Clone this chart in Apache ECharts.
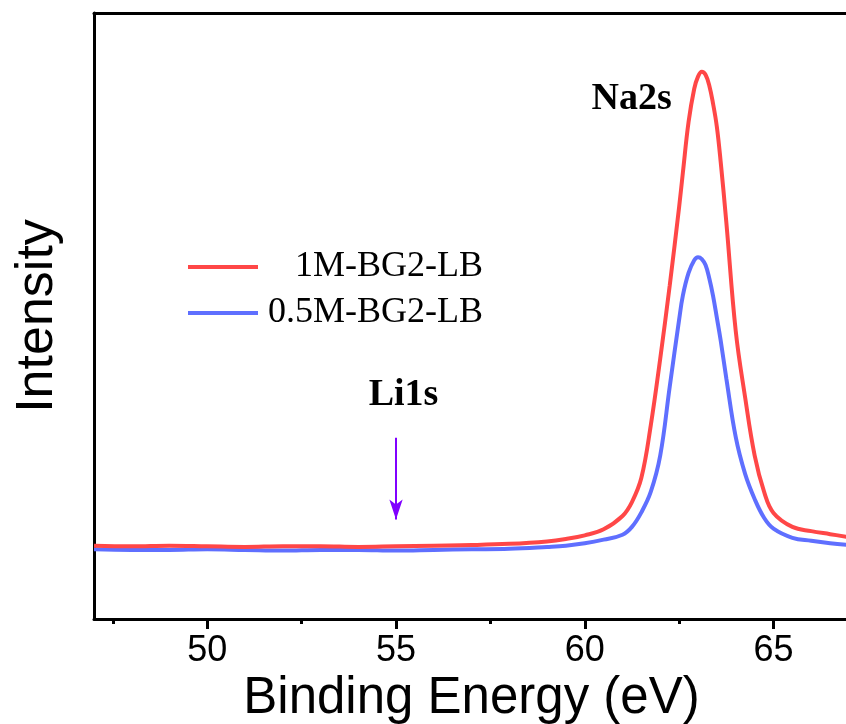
<!DOCTYPE html>
<html>
<head>
<meta charset="utf-8">
<script src="https://cdn.jsdelivr.net/npm/echarts@6/dist/echarts.min.js"></script>
<style>
  html, body { margin: 0; padding: 0; background: #fff; }
  #chart { width: 846px; height: 724px; }
</style>
</head>
<body>
<div id="chart"></div>
<script>
// binding energy (eV) and intensity (a.u.)
const energy = [47, 48, 49, 50, 51, 52, 53, 54, 55, 56, 57, 58, 59, 59.5, 60, 60.5, 61, 61.25, 61.5, 61.75,
  62, 62.25, 62.5, 62.6, 62.75, 62.9, 63, 63.1, 63.2, 63.3, 63.4, 63.5, 63.6, 63.75,
  64, 64.25, 64.5, 64.75, 65, 65.5, 66, 66.5, 67]
const red1M = [12.1, 12.0, 12.1, 12.0, 11.9, 12.0, 12.0, 11.9, 12.0, 12.1, 12.2, 12.4, 12.8, 13.2, 13.8, 14.8, 17.0, 19.3, 23.3, 32.0,
  43.0, 55.0, 68.0, 73.7, 82.0, 87.5, 89.5, 90.3, 89.8, 88.0, 85.0, 81.2, 75.5, 65.5,
  47.5, 36.5, 27.0, 21.0, 17.5, 15.2, 14.5, 14.0, 13.5]
const blue05M = [11.5, 11.4, 11.4, 11.5, 11.4, 11.3, 11.4, 11.4, 11.3, 11.4, 11.5, 11.6, 11.9, 12.1, 12.5, 13.1, 13.9, 15.2, 17.6, 21.0,
  27.0, 38.3, 49.4, 53.4, 57.1, 59.2, 59.7, 59.4, 58.4, 56.2, 53.3, 49.7, 46.0, 39.7,
  30.0, 23.9, 19.8, 16.7, 14.9, 13.4, 12.9, 12.5, 12.2]

const seriesNames = ['1M-BG2-LB', '0.5M-BG2-LB']
const majorTicks = [50, 55, 60, 65]
const minorTicks = [47.5, 52.5, 57.5, 62.5]

const chart = echarts.init(document.getElementById('chart'))

const pairs = (ys) => energy.map((x, i) => [x, ys[i]])

const options = {
  animation: false,
  backgroundColor: '#fff',
  grid: { left: 94, right: -3, top: 13, bottom: 105, outerBoundsMode: 'none' },
  legend: {
    data: seriesNames,
    orient: 'vertical',
    left: 183,
    top: 244,
    itemWidth: 70,
    itemHeight: 4,
    itemGap: 10,
    icon: 'rect',
    formatter: name => '{n|' + name + '}',
    textStyle: {
      rich: {
        n: { width: 220, align: 'right', fontFamily: 'Liberation Serif', fontSize: 36, color: '#000', lineHeight: 36 }
      }
    }
  },
  xAxis: [
    {
      type: 'value', min: 47, max: 67, position: 'bottom',
      name: 'Binding Energy (eV)', nameLocation: 'middle', nameGap: 42,
      nameTextStyle: { fontFamily: 'Liberation Sans', fontSize: 51, color: '#000' },
      axisLine: { lineStyle: { color: '#000', width: 3 } },
      axisTick: { customValues: majorTicks, length: 10, lineStyle: { width: 3, color: '#000' } },
      axisLabel: { customValues: majorTicks, margin: 14, fontFamily: 'Liberation Sans', fontSize: 36, color: '#000' },
      splitLine: { show: false }
    },
    {
      type: 'value', min: 47, max: 67, position: 'bottom',
      axisLine: { show: false },
      axisTick: { customValues: minorTicks, length: 5, lineStyle: { width: 3, color: '#000' } },
      axisLabel: { show: false },
      splitLine: { show: false }
    },
    {
      type: 'value', min: 47, max: 67, position: 'top',
      axisLine: { lineStyle: { color: '#000', width: 3 } },
      axisTick: { show: false },
      axisLabel: { show: false },
      splitLine: { show: false }
    }
  ],
  yAxis: {
    type: 'value', min: 0, max: 100,
    name: 'Intensity', nameLocation: 'middle', nameGap: 30,
    nameTextStyle: { fontFamily: 'Liberation Sans', fontSize: 52, color: '#000' },
    axisLine: { show: true, lineStyle: { color: '#000', width: 3 } },
    axisTick: { show: false },
    axisLabel: { show: false },
    splitLine: { show: false }
  },
  series: [
    {
      name: seriesNames[0],
      type: 'line',
      data: pairs(red1M),
      smooth: 0.4,
      showSymbol: false,
      color: '#ff4747',
      lineStyle: { width: 4 },
      z: 3,
      markPoint: {
        symbol: 'circle', symbolSize: 0,
        label: {
          show: true, position: 'inside',
          fontFamily: 'Liberation Serif', fontWeight: 'bold', fontSize: 38, color: '#000'
        },
        data: [
          { coord: [61.24, 85.8], value: 'Na2s', label: { formatter: 'Na2s' } },
          { coord: [55.2, 37.0], value: 'Li1s', label: { formatter: 'Li1s' } }
        ]
      },
      markLine: {
        silent: true,
        symbol: ['none', 'arrow'],
        symbolSize: [10, 20],
        lineStyle: { color: '#8000ff', width: 2, type: 'solid' },
        label: { show: false },
        data: [[{ coord: [55, 29.9] }, { coord: [55, 16.4] }]]
      }
    },
    {
      name: seriesNames[1],
      type: 'line',
      data: pairs(blue05M),
      smooth: 0.4,
      showSymbol: false,
      color: '#5f6fff',
      lineStyle: { width: 4 },
      z: 2
    }
  ]
}

chart.setOption(options)
</script>
</body>
</html>
